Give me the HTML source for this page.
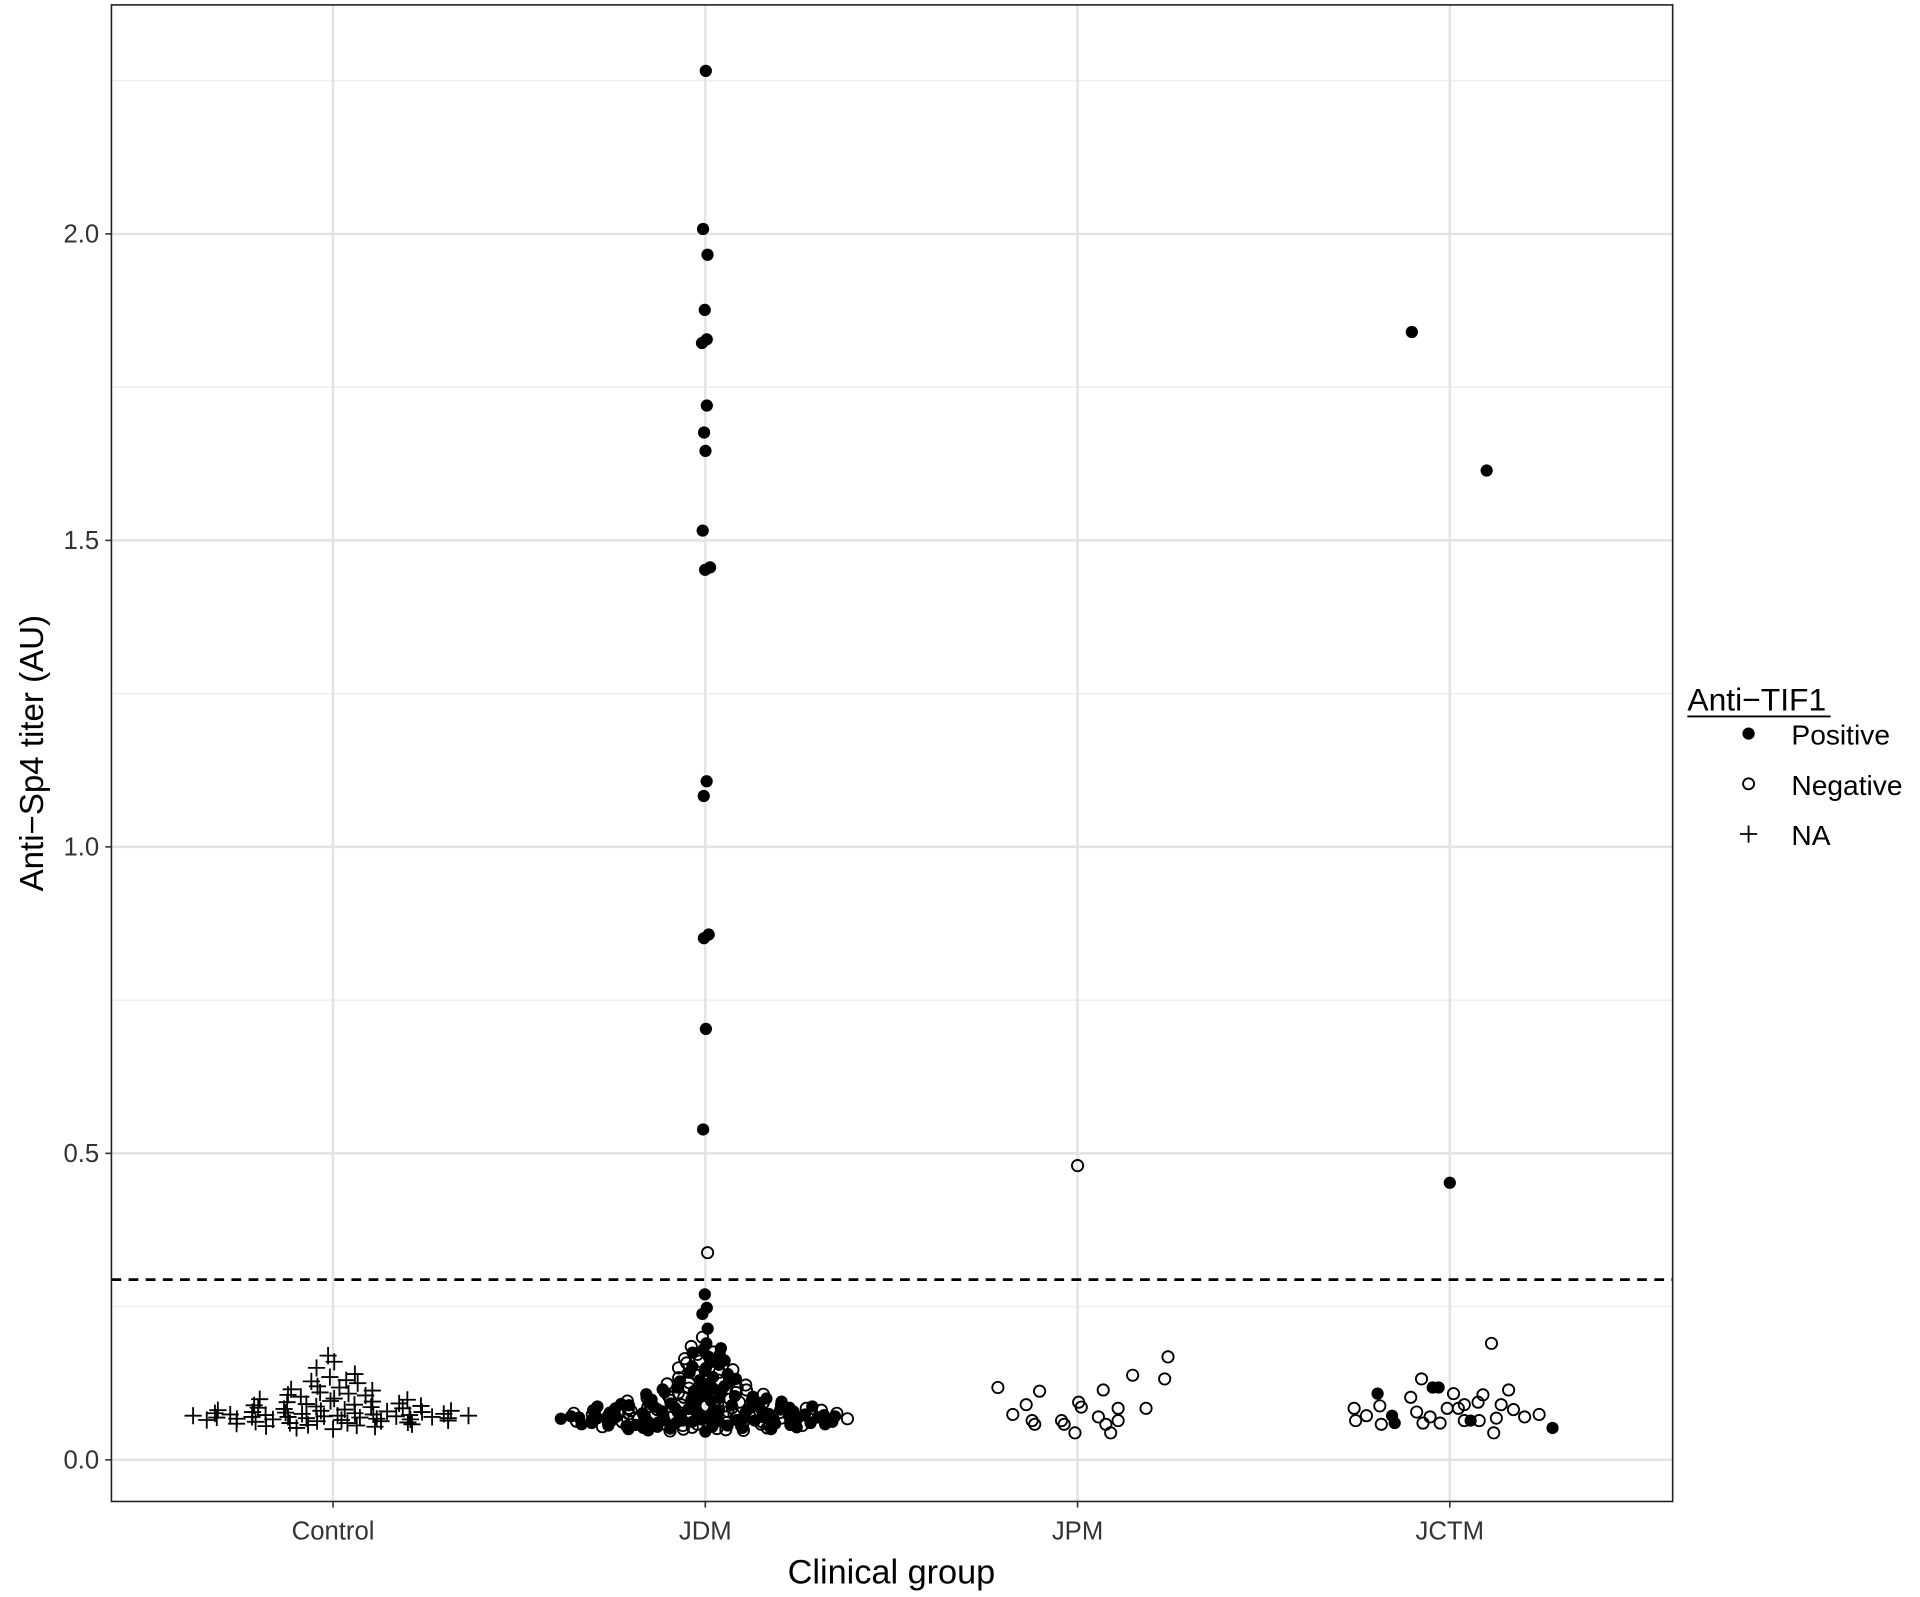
<!DOCTYPE html>
<html><head><meta charset="utf-8"><style>
html,body{margin:0;padding:0;background:#fff;}
svg{display:block;font-family:"Liberation Sans",Arial,sans-serif;}
</style></head><body>
<svg id="chart" width="1920" height="1597" viewBox="0 0 1568 1304" preserveAspectRatio="none" xmlns="http://www.w3.org/2000/svg">
<rect x="0" y="0" width="1568" height="1304" fill="#fff"/>
<g id="grid"></g>
<g id="marks"></g>
<rect x="91" y="4" width="1275" height="1222" fill="none" stroke="#222" stroke-width="1.3"/>
<g id="axes"></g>
<text transform="translate(35,615) rotate(-90)" text-anchor="middle" font-size="27" fill="#000">Anti−Sp4 titer (AU)</text>
<text x="728" y="1293" text-anchor="middle" font-size="28" fill="#000">Clinical group</text>
<g>
<text x="1378" y="580" font-size="26" fill="#000">Anti−TIF1</text>
<line x1="1378" y1="585" x2="1495" y2="585" stroke="#000" stroke-width="1.5"/>
<g><circle cx="1428" cy="599" r="5" fill="#000"/><text x="1463" y="608" font-size="23">Positive</text></g>
<g><circle cx="1428" cy="640" r="4.5" fill="none" stroke="#000" stroke-width="1.5"/><text x="1463" y="649" font-size="23">Negative</text></g>
<g><path d="M1421 681 H1435 M1428 674 V688" stroke="#000" stroke-width="1.5"/><text x="1463" y="690" font-size="23">NA</text></g>
</g>
</svg>
<script>
const categories = ["Control","JDM","JPM","JCTM"];
const yTicks = [0,0.5,1.0,1.5,2.0];
const yTickLabels = ["0.0","0.5","1.0","1.5","2.0"];
const threshold = 0.294;
const controlNA = [0.17,0.16,0.15,0.14,0.135,0.13,0.128,0.125,0.12,0.118,0.115,0.113,0.11,0.108,0.106,0.105,0.103,0.1,0.099,0.098,0.096,0.095,0.094,0.092,0.091,0.09,0.089,0.088,0.087,0.086,0.085,0.084,0.083,0.082,0.081,0.08,0.08,0.079,0.078,0.078,0.077,0.076,0.076,0.075,0.075,0.074,0.074,0.073,0.073,0.072,0.072,0.072,0.071,0.071,0.07,0.07,0.07,0.069,0.069,0.068,0.068,0.067,0.067,0.066,0.066,0.065,0.065,0.064,0.063,0.063,0.062,0.061,0.06,0.06,0.059,0.058,0.057,0.056,0.055,0.054,0.052,0.05];
const jdmPositive = [2.266,2.008,1.966,1.876,1.828,1.822,1.720,1.676,1.646,1.516,1.456,1.452,1.107,1.083,0.857,0.851,0.703,0.539,0.27,0.248,0.238,0.214,0.19,0.18,0.175,0.168,0.16,0.155,0.15,0.145,0.14,0.135,0.13,0.128,0.125,0.12,0.118,0.115,0.112,0.11,0.108,0.105,0.103,0.1,0.098,0.097,0.095,0.093,0.092,0.09,0.089,0.088,0.087,0.086,0.085,0.084,0.083,0.082,0.081,0.08,0.079,0.078,0.077,0.076,0.075,0.075,0.074,0.073,0.072,0.071,0.07,0.07,0.069,0.068,0.067,0.066,0.065,0.065,0.064,0.063,0.062,0.061,0.06,0.06,0.059,0.058,0.057,0.056,0.055,0.054,0.052,0.05,0.048,0.046,
0.182,0.172,0.162,0.152,0.142,0.132,0.126,0.121,0.116,0.111,0.107,0.104,0.101,0.099,0.096,0.094,0.091,0.089,0.087,0.085,0.083,0.081,0.079,0.077,0.076,0.074,0.073,0.072,0.071,0.07,0.069,0.068,0.067,0.066,0.065,0.064,0.063,0.062,0.061,0.06,0.059,0.058,0.057,0.056,0.055,0.054,0.053,0.052,0.051,0.05];
const jdmNegative = [0.338,0.2,0.185,0.172,0.165,0.158,0.15,0.143,0.138,0.13,0.126,0.122,0.118,0.114,0.11,0.107,0.104,0.101,0.099,0.096,0.094,0.092,0.09,0.088,0.087,0.085,0.084,0.082,0.081,0.08,0.079,0.078,0.077,0.076,0.075,0.074,0.073,0.072,0.071,0.07,0.069,0.068,0.067,0.066,0.065,0.064,0.063,0.062,0.061,0.06,0.059,0.058,0.057,0.056,0.055,0.053,0.051,0.049,0.047,
0.176,0.161,0.147,0.134,0.124,0.117,0.109,0.102,0.097,0.093,0.089,0.086,0.083,0.08,0.078,0.076,0.074,0.072,0.07,0.068,0.066,0.064,0.062,0.06,0.058,0.056,0.054,0.052,0.05,0.048];
const jpmNegValues = [0.118,0.074,0.090,0.064,0.112,0.058,0.064,0.058,0.044,0.094,0.086,0.070,0.114,0.058,0.044,0.084,0.064,0.138,0.084,0.132,0.168,0.480];
const jpmNegJitter = [-0.214,-0.174,-0.138,-0.122,-0.102,-0.115,-0.043,-0.036,-0.007,0.003,0.010,0.056,0.069,0.076,0.089,0.109,0.109,0.148,0.184,0.234,0.243,0.0];
const jctmNegValues = [0.084,0.064,0.072,0.088,0.058,0.102,0.078,0.132,0.060,0.070,0.060,0.084,0.108,0.084,0.090,0.094,0.064,0.106,0.190,0.044,0.068,0.090,0.114,0.082,0.070,0.074,0.064];
const jctmNegJitter = [-0.257,-0.253,-0.224,-0.188,-0.184,-0.105,-0.089,-0.076,-0.072,-0.053,-0.026,-0.007,0.010,0.023,0.039,0.076,0.079,0.089,0.112,0.118,0.125,0.138,0.158,0.171,0.201,0.240,0.039];
const jctmPosValues = [1.84,1.614,0.452,0.108,0.072,0.060,0.118,0.118,0.064,0.052];
const jctmPosJitter = [-0.102,0.099,0.0,-0.194,-0.155,-0.148,-0.046,-0.030,0.056,0.276];

const NS="http://www.w3.org/2000/svg";
const px0=91, px1=1366, py0=4, py1=1226;
function xScale(i){ return 272 + i*304; }
function yScale(v){ return 1192 - v*500.5; }
function mk(tag, attrs, parent){ const e=document.createElementNS(NS,tag); for(const k in attrs) e.setAttribute(k,attrs[k]); parent.appendChild(e); return e; }
const grid=document.getElementById('grid'), axes=document.getElementById('axes'), marks=document.getElementById('marks');
for(let v=0.25; v<=2.25; v+=0.5){
  const l=mk('line',{x1:px0,x2:px1,y1:yScale(v),y2:yScale(v),stroke:'#ebebeb','stroke-width':1},grid);
  
  
}
yTicks.forEach((v,i)=>{
  const l=mk('line',{x1:px0,x2:px1,y1:yScale(v),y2:yScale(v),stroke:'#e3e3e3','stroke-width':2},grid);
  
  
  const t=mk('line',{x1:86,x2:91,y1:yScale(v),y2:yScale(v),stroke:'#333','stroke-width':1.3},axes);
  
  
  const tx=mk('text',{x:81,y:yScale(v)+7,'text-anchor':'end','font-size':21,fill:'#333'},axes);
  tx.textContent=yTickLabels[i];
  
  
});
categories.forEach((c,i)=>{
  const l=mk('line',{x1:xScale(i),x2:xScale(i),y1:py0,y2:py1,stroke:'#e3e3e3','stroke-width':2},grid);
  
  
  const t=mk('line',{x1:xScale(i),x2:xScale(i),y1:1226,y2:1231,stroke:'#333','stroke-width':1.3},axes);
  
  
  const tx=mk('text',{x:xScale(i),y:1257,'text-anchor':'middle','font-size':21,fill:'#333'},axes);
  tx.textContent=c;
  
  
});
const th=mk('line',{x1:px0,x2:px1,y1:yScale(threshold),y2:yScale(threshold),stroke:'#000','stroke-width':2.2,'stroke-dasharray':'8 6'},marks);



function vdc(n){ let q=0, bk=0.5; while(n>0){ q+=(n%2)*bk; n=Math.floor(n/2); bk/=2; } return q; }
function quasi(pts, halfWidth, bw, pw){
  const dens=pts.map(p=>pts.reduce((s,q)=>s+Math.exp(-0.5*Math.pow((p.v-q.v)/bw,2)),0));
  const maxD=Math.max(...dens);
  const order=pts.map((p,i)=>i).sort((a,b)=>pts[a].v-pts[b].v);
  order.forEach((idx,r)=>{
    const u=vdc(r+1)*2-1;
    pts[idx].dx=u*halfWidth*Math.pow(dens[idx]/maxD,pw);
  });
  return pts;
}
function drawPoint(cx,cy,type,name){
  let e;
  if(type==='pos'){ e=mk('circle',{cx:cx,cy:cy,r:5,fill:'#000'},marks); }
  else if(type==='neg'){ e=mk('circle',{cx:cx,cy:cy,r:4.6,fill:'none',stroke:'#000','stroke-width':1.5},marks); }
  else { e=mk('path',{d:`M${cx-7} ${cy} H${cx+7} M${cx} ${cy-7} V${cy+7}`,stroke:'#000','stroke-width':1.5},marks); }
  
  
}
const cPts=quasi(controlNA.map(v=>({v:v})),118,0.01,0.8);
cPts.forEach(p=>drawPoint(xScale(0)+p.dx,yScale(p.v),'na','control-point'));
const jPts=quasi(jdmNegative.map(v=>({v:v,t:'neg'})).concat(jdmPositive.map(v=>({v:v,t:'pos'}))),120,0.01,0.9);
jPts.forEach(p=>drawPoint(xScale(1)+p.dx,yScale(p.v),p.t,'jdm-point'));
jpmNegValues.forEach((v,i)=>drawPoint(xScale(2)+jpmNegJitter[i]*304,yScale(v),'neg','jpm-point'));
jctmNegValues.forEach((v,i)=>drawPoint(xScale(3)+jctmNegJitter[i]*304,yScale(v),'neg','jctm-point'));
jctmPosValues.forEach((v,i)=>drawPoint(xScale(3)+jctmPosJitter[i]*304,yScale(v),'pos','jctm-point'));
</script>
</body></html>
